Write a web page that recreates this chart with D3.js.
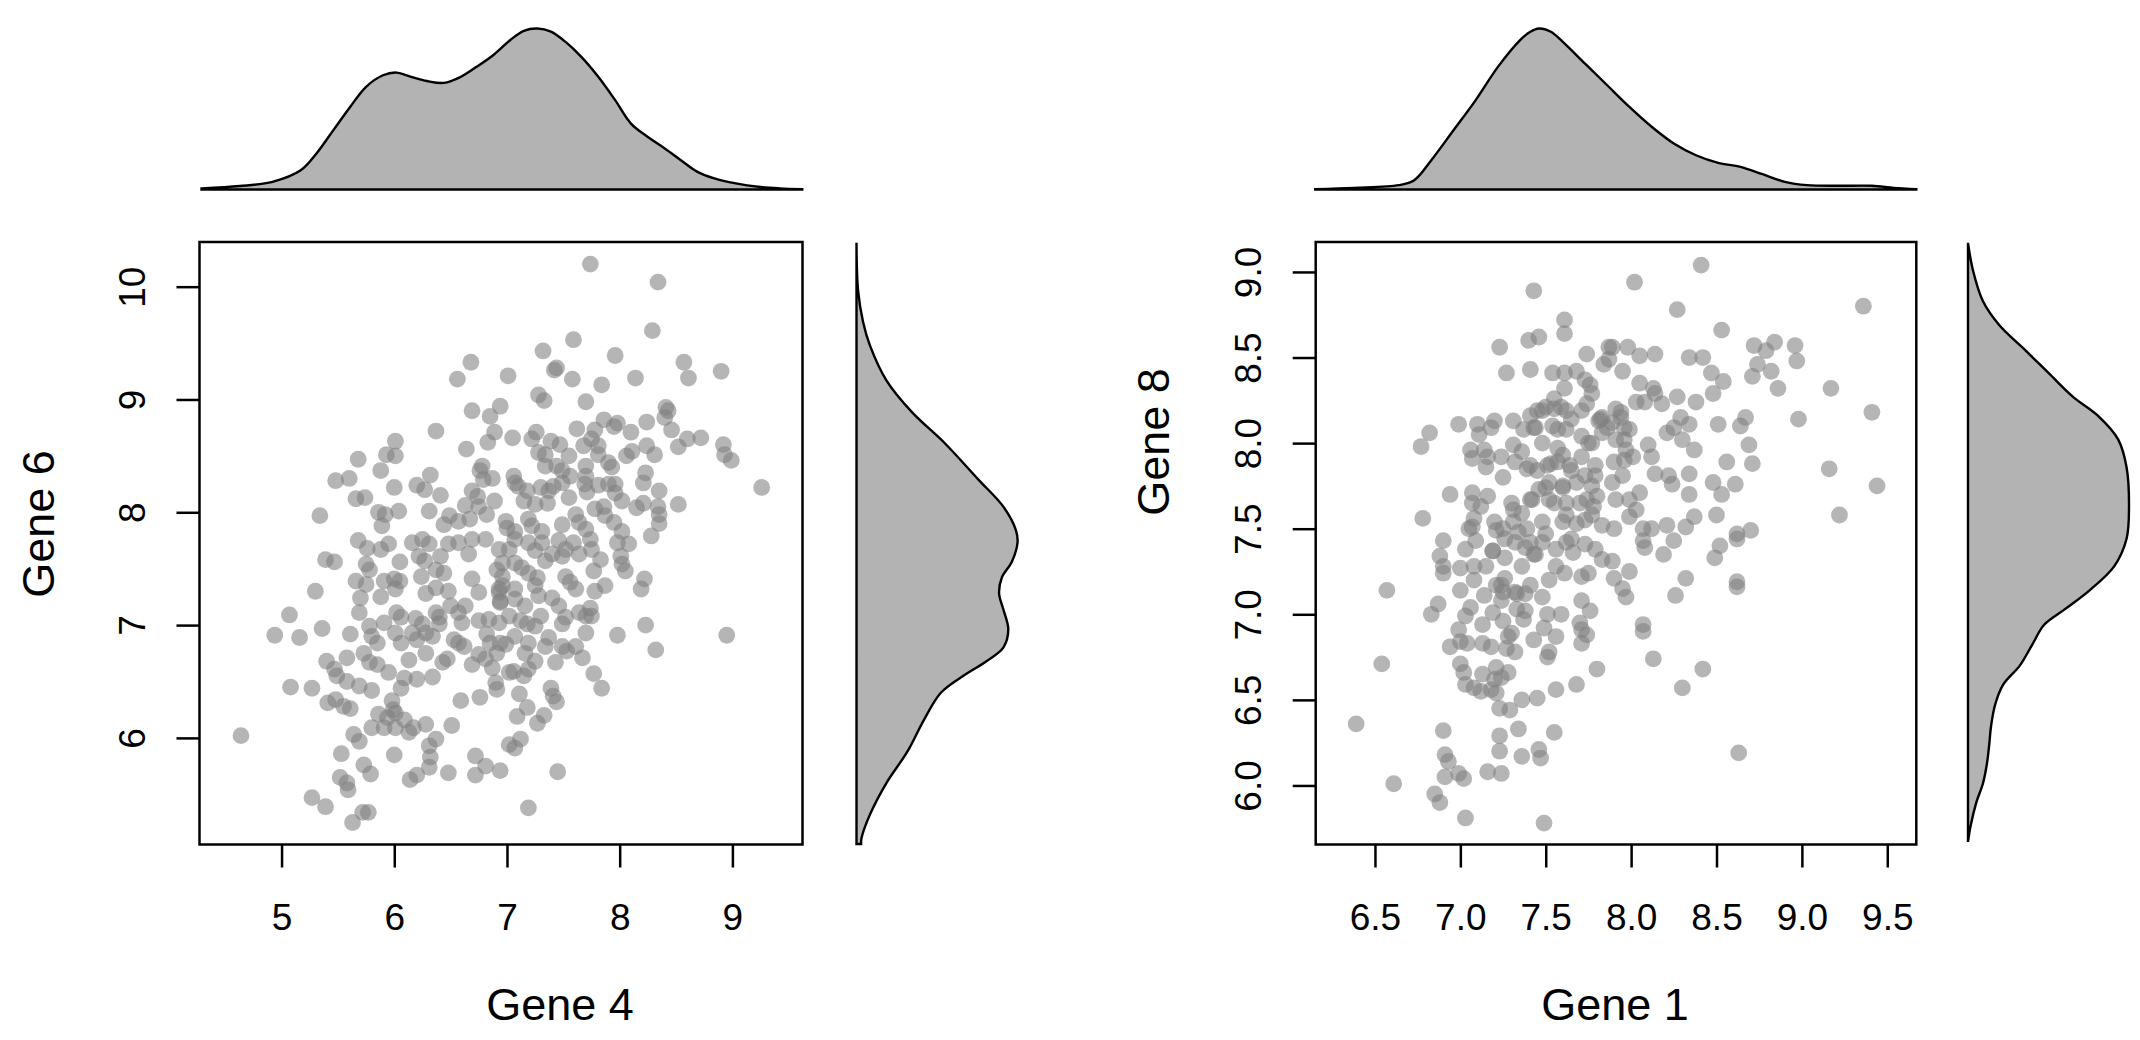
<!DOCTYPE html>
<html>
<head>
<meta charset="utf-8">
<script src="https://d3js.org/d3.v7.min.js"></script>
<style>
  body { margin: 0; background: #fff; }
  svg text { font-family: "Liberation Sans", Arial, Helvetica, sans-serif; fill: #000; }
</style>
</head>
<body>
<div id="chart"></div>
<script>
// ---- Left panel: Gene 4 (x) vs Gene 6 (y) ----
var gene4 = [
  6.68,6.56,6.69,6.85,6.37,6.89,6.83,6.64,6.01,5.93,6.01,5.68,5.88,5.60,5.48,6.20,6.32,6.27,6.00,6.41,5.66,5.74,5.34,5.86,5.92,6.04,5.89,6.31,6.49,6.44,6.57,6.78,6.76,6.79,6.87,6.69,6.74,6.89,6.63,6.75,6.82,6.67,
  7.74,8.34,8.29,7.59,7.32,7.96,7.44,7.42,7.58,7.01,7.84,8.14,8.57,8.61,8.90,7.28,7.33,7.70,6.94,8.41,8.43,8.40,8.24,8.46,8.60,8.72,8.52,8.92,8.93,8.99,9.26,8.52,8.35,8.23,8.21,8.31,8.24,8.10,8.11,8.06,7.98,7.95,7.86,7.78,7.62,7.68,7.75,7.81,7.81,7.90,7.93,7.70,7.55,7.47,7.39,7.26,7.22,7.28,7.34,7.05,7.34,7.44,7.49,7.56,7.70,7.69,7.71,7.81,7.90,7.96,7.96,8.02,8.15,8.21,8.34,8.35,8.35,8.28,7.55,7.37,7.30,7.41,7.49,7.18,7.10,7.06,7.07,7.15,7.25,7.36,7.61,7.64,7.78,7.86,7.87,7.95,6.99,7.00,7.19,7.22,7.49,7.70,8.02,7.31,7.07,
  5.68,5.76,5.88,5.95,5.39,5.47,5.75,5.78,6.05,6.16,6.25,6.31,6.22,6.27,6.41,6.48,6.57,6.69,6.81,6.66,6.93,6.91,6.37,6.44,5.66,5.75,5.91,6.00,6.05,6.01,6.24,6.69,6.75,6.93,6.94,5.30,5.70,5.88,6.28,6.37,6.48,6.50,6.63,5.69,5.91,6.02,6.06,6.19,6.25,6.37,6.40,6.40,6.57,6.60,6.75,6.84,5.07,4.94,5.16,5.36,5.61,5.78,5.80,5.85,6.01,6.06,6.16,6.20,6.28,6.34,6.53,6.57,6.62,6.82,6.85,6.94,5.73,5.58,5.40,5.78,5.85,6.13,6.28,6.43,6.47,6.69,6.75,6.81,6.87,5.47,5.49,5.58,5.69,5.80,5.95,6.09,6.20,6.34,6.06,6.90,6.91,5.08,5.27,5.41,5.48,5.55,5.61,5.98,5.99,6.01,5.86,5.94,5.80,5.91,6.01,6.09,6.13,6.17,6.28,6.51,6.59,6.76,5.64,5.69,5.53,6.00,6.31,6.37,6.32,6.31,5.73,5.79,6.14,6.20,6.48,6.72,6.72,6.81,6.94,5.52,5.58,5.59,5.27,5.39,5.63,5.72,5.77,4.64,
  7.07,7.19,7.31,7.46,7.59,7.74,7.98,8.08,6.96,7.07,7.13,7.19,7.27,7.34,7.49,7.64,7.83,7.77,8.01,8.02,8.05,8.22,8.19,7.87,7.78,7.61,7.56,7.52,6.93,6.94,7.07,7.25,7.28,7.40,7.16,7.30,7.12,7.18,6.93,7.49,7.52,7.64,7.70,7.75,7.74,7.70,7.61,7.53,7.49,7.37,7.34,7.19,7.16,6.99,6.91,7.25,7.43,7.19,7.06,7.02,7.15,7.67,7.77,7.84,7.98,8.23,8.32,8.95,7.11,7.18,7.09,7.27,7.33,7.39,7.41,7.44,7.12,7.07,7.02,7.45,7.19,7.40,7.02,7.25,7.52,7.75,6.96,6.96,7.07,7.02,7.25,7.46,7.07
];
var gene6 = [
  9.33,9.18,8.90,8.85,8.72,8.71,8.62,8.56,8.63,8.51,8.50,8.47,8.37,8.30,8.28,8.24,8.33,8.20,8.22,8.15,8.12,8.13,7.97,8.00,7.98,8.01,7.88,8.01,7.97,7.89,7.92,8.41,8.37,8.29,8.30,8.19,8.14,8.10,8.06,8.05,7.98,7.94,
  10.20,10.04,9.61,9.53,9.43,9.39,9.28,9.26,9.18,9.21,9.13,9.19,9.33,9.19,9.25,9.04,8.99,8.98,8.94,8.93,8.90,8.84,8.80,8.73,8.65,8.66,8.58,8.60,8.51,8.46,8.22,8.07,8.19,8.35,8.26,8.51,8.59,8.71,8.54,8.50,8.79,8.76,8.82,8.73,8.74,8.59,8.65,8.59,8.51,8.44,8.40,8.41,8.50,8.60,8.63,8.71,8.65,8.53,8.51,8.66,8.41,8.41,8.37,8.32,8.32,8.25,8.18,8.24,8.25,8.25,8.17,8.10,8.04,8.08,8.05,7.98,7.90,7.79,8.13,8.19,8.22,8.23,8.26,8.19,8.23,8.32,8.26,8.10,8.07,8.08,7.98,7.91,8.03,8.05,7.97,7.91,7.92,7.86,7.94,7.88,7.89,7.85,7.83,7.83,7.83,
  7.75,7.68,7.67,7.72,7.58,7.56,7.54,7.49,7.56,7.73,7.76,7.72,7.61,7.57,7.61,7.72,7.73,7.76,7.76,7.63,7.67,7.49,7.49,7.46,7.39,7.36,7.39,7.41,7.39,7.32,7.43,7.41,7.29,7.32,7.21,7.30,7.24,7.25,7.28,7.33,7.30,7.17,7.17,7.11,7.02,7.11,7.07,7.06,7.01,7.11,7.07,7.01,7.11,7.02,7.04,7.05,7.09,6.91,6.89,6.97,6.92,6.99,6.90,6.84,6.93,6.84,6.93,6.87,6.93,6.90,6.87,6.84,6.81,6.92,6.84,6.84,6.75,6.71,6.68,6.67,6.65,6.69,6.75,6.67,6.70,6.65,6.74,6.70,6.62,6.61,6.55,6.50,6.46,6.42,6.58,6.53,6.52,6.54,6.44,6.49,6.43,6.45,6.44,6.31,6.34,6.28,6.26,6.33,6.25,6.22,6.21,6.18,6.09,6.09,6.09,6.16,6.05,6.09,6.12,6.11,6.33,6.36,6.03,5.97,5.86,5.85,5.93,5.99,5.83,5.74,5.76,5.68,5.63,5.67,5.69,5.84,5.67,5.75,5.71,5.65,5.60,5.54,5.47,5.39,5.25,5.34,5.34,6.02,
  7.76,7.73,7.73,7.75,7.73,7.76,7.73,7.72,7.55,7.55,7.51,7.46,7.42,7.57,7.61,7.63,7.58,7.48,7.61,7.54,7.48,7.41,7.32,7.35,7.30,7.32,7.38,7.43,7.29,7.20,7.32,7.35,7.26,7.24,7.17,7.08,7.04,7.01,7.02,7.01,7.07,7.11,7.08,7.08,7.15,6.93,6.81,6.77,6.81,6.89,6.81,6.84,6.75,6.83,6.75,6.68,6.67,6.61,6.59,6.58,6.55,6.71,6.57,6.44,6.91,7.00,6.78,6.91,6.39,6.27,6.19,6.13,6.20,6.44,6.37,6.32,5.99,5.91,5.94,5.70,5.38,7.63,7.67,7.66,7.67,7.67,7.43,7.35,7.23,7.08,6.99,7.17,6.90
];

// ---- Right panel: Gene 1 (x) vs Gene 8 (y) ----
var gene1 = [
  7.43,7.61,7.61,7.40,7.46,7.23,7.87,7.87,7.74,7.84,7.27,7.41,7.54,7.61,7.68,7.73,7.76,7.77,7.61,7.55,7.45,7.50,7.59,7.62,7.71,7.83,6.82,6.77,6.99,7.10,7.20,7.18,7.11,7.31,7.37,7.44,7.54,7.62,7.48,7.57,7.71,7.75,7.81,7.83,7.31,7.06,7.14,7.07,7.16,7.24,7.15,7.25,7.32,7.39,7.41,7.51,7.57,7.64,7.71,7.79,7.73,7.77,7.68,7.60,7.52,7.46,7.42,7.52,7.62,7.70,7.78,7.80,7.30,7.31,7.36,6.94,7.07,7.07,7.16,6.78,7.08,7.20,7.25,7.48,7.60,7.68,7.73,7.83,7.39,7.05,7.34,
  8.41,8.02,8.27,9.36,8.53,8.72,8.84,8.96,8.97,8.79,8.74,8.82,8.71,8.86,9.17,9.41,8.98,7.98,8.05,8.14,8.34,8.42,8.47,8.54,8.48,8.38,8.27,7.89,7.95,8.05,8.13,8.14,8.08,8.03,8.18,7.91,7.94,7.89,7.99,7.96,8.01,7.97,8.10,8.12,8.21,8.25,8.29,8.34,8.30,8.37,8.51,8.64,8.67,8.69,8.71,8.56,8.34,8.22,8.24,8.14,7.95,7.90,7.89,8.05,7.99,8.03,7.99,7.91,7.90,8.07,8.12,8.21,8.34,8.37,8.32,8.48,8.53,8.61,8.50,8.62,8.70,9.16,9.44,9.22,
  6.90,7.03,7.09,7.19,7.26,7.32,7.38,7.44,7.48,7.56,7.62,7.66,7.73,7.79,7.83,6.88,6.90,6.90,7.00,7.08,7.15,7.08,7.00,7.14,7.21,7.25,7.24,7.32,7.38,7.48,7.52,7.56,7.61,7.71,7.75,7.71,7.76,7.59,7.51,7.38,7.37,7.25,7.19,7.13,7.06,7.03,6.99,7.00,7.04,6.94,7.13,7.18,7.28,7.27,7.32,7.30,7.43,7.49,7.56,7.70,7.71,7.74,7.71,7.52,7.51,6.83,6.87,6.57,6.54,7.00,7.02,7.03,7.08,7.12,7.13,7.18,7.21,7.20,7.24,7.21,7.28,7.23,7.29,7.36,7.45,7.56,7.68,7.80,6.39,6.90,7.34,7.55,7.23,7.23,6.91,6.93,6.91,6.99,7.02,7.16,7.24,7.36,7.46,7.47,6.61,6.85,6.88,7.03,7.49,
  8.07,8.08,8.19,8.25,8.52,8.49,8.62,7.89,7.90,7.99,7.95,7.97,8.32,8.26,8.62,8.62,8.07,8.07,8.13,8.42,8.30,8.63,
  7.48,7.55,7.41,7.43,7.57,7.65,7.82,7.94,7.86,7.96,7.91,7.77,7.60,7.53,7.45,7.65,7.79,7.96,7.60,7.74,7.50,7.41,7.55,7.62,7.77,7.31,7.21,7.41,7.50,7.65,7.43,7.36,7.26,7.19,7.24,7.33,7.41,7.33,7.26,7.12,7.07,7.36,7.74
];
var gene8 = [
  8.89,8.72,8.64,8.60,8.62,8.56,8.56,8.49,8.52,8.46,8.41,8.43,8.41,8.41,8.42,8.37,8.34,8.29,8.32,8.26,8.19,8.21,8.21,8.19,8.19,8.15,8.06,7.98,8.11,8.11,8.13,8.09,8.05,8.13,8.08,8.09,8.10,8.08,8.00,7.97,8.04,8.00,8.13,8.06,7.99,7.96,7.96,7.91,7.92,7.92,7.86,7.80,7.89,7.85,7.87,7.87,7.89,7.87,7.92,7.87,7.81,7.75,7.77,7.75,7.77,7.73,7.67,7.67,7.65,7.65,7.63,7.69,7.65,7.61,7.59,7.70,7.71,7.65,7.69,7.56,7.56,7.54,7.50,7.54,7.54,7.53,7.55,7.52,7.50,7.50,7.48,
  9.04,8.94,8.78,8.80,8.66,8.57,8.59,8.57,8.48,8.54,8.46,8.42,8.39,8.32,8.32,8.18,8.14,8.56,8.51,8.52,8.50,8.50,8.41,8.36,8.29,8.24,8.27,8.56,8.42,8.35,8.32,8.29,8.24,8.24,8.23,8.20,8.15,8.12,8.08,8.02,7.92,7.96,7.99,7.92,8.06,8.09,8.15,8.11,8.02,7.96,8.11,8.10,8.15,7.99,7.88,7.89,7.82,7.81,7.76,7.82,7.81,7.89,7.77,7.71,7.67,7.61,7.57,7.67,7.50,7.50,7.50,7.52,7.70,7.57,7.51,7.77,7.70,7.76,7.58,7.47,7.49,7.85,7.75,7.58,
  7.43,7.38,7.43,7.37,7.44,7.42,7.39,7.35,7.42,7.38,7.42,7.36,7.41,7.38,7.32,7.34,7.28,7.24,7.27,7.28,7.28,7.20,7.14,7.11,7.17,7.13,7.08,7.13,7.12,7.10,7.20,7.28,7.24,7.22,7.24,7.08,7.02,7.00,7.00,7.02,6.97,6.96,7.01,6.94,7.04,6.99,6.91,6.84,6.83,6.81,6.83,6.81,6.87,6.80,6.78,6.89,6.85,6.92,6.87,6.95,6.91,6.88,6.83,6.78,6.75,7.00,7.06,7.14,6.71,6.71,6.66,6.59,6.57,6.55,6.65,6.56,6.54,6.62,6.63,6.69,6.66,6.45,6.44,6.50,6.51,6.56,6.59,6.68,6.36,6.32,6.33,6.31,6.29,6.20,6.18,6.14,6.05,6.07,6.04,6.08,6.07,6.17,6.21,6.16,6.01,5.95,5.90,5.81,5.78,
  7.43,7.39,7.35,7.43,7.40,7.33,7.44,7.31,7.21,7.25,7.15,7.10,7.21,7.11,7.19,7.16,6.94,6.90,6.74,6.68,6.57,6.19,
  8.19,8.20,8.16,8.09,8.08,8.14,8.14,8.18,8.09,8.09,8.02,8.00,7.93,7.88,7.84,7.84,7.81,7.90,7.74,7.67,7.74,7.67,7.65,7.58,7.58,7.54,7.49,7.42,7.47,7.44,7.35,7.28,7.33,7.37,7.17,7.12,7.17,7.03,7.21,7.63,7.51,7.95,8.23
];

// ---- Marginal density curves ----
var gene4DensX = [4.29,4.63,4.92,5.17,5.31,5.46,5.61,5.75,5.90,6.02,6.15,6.29,6.44,6.59,6.73,6.88,7.03,7.15,7.27,7.39,7.52,7.66,7.81,7.96,8.10,8.25,8.40,8.54,8.69,8.84,9.03,9.23,9.42,9.62];
var gene4DensY = [0.003,0.009,0.020,0.050,0.094,0.155,0.216,0.268,0.298,0.305,0.294,0.283,0.278,0.294,0.320,0.351,0.390,0.414,0.420,0.412,0.385,0.346,0.294,0.233,0.172,0.137,0.107,0.077,0.046,0.029,0.016,0.007,0.003,0.001];
var gene6DensX = [5.06,5.11,5.32,5.60,5.88,6.16,6.40,6.54,6.68,6.80,6.96,7.14,7.28,7.42,7.56,7.73,7.84,8.05,8.29,8.61,8.89,9.17,9.48,9.69,9.97,10.39];
var gene6DensY = [0.012,0.013,0.035,0.078,0.133,0.176,0.220,0.274,0.339,0.383,0.396,0.383,0.372,0.379,0.405,0.420,0.416,0.383,0.318,0.231,0.144,0.078,0.035,0.017,0.004,0.000];
var gene1DensX = [6.15,6.38,6.64,6.73,6.83,6.96,7.09,7.22,7.35,7.41,7.46,7.53,7.60,7.73,7.86,7.99,8.12,8.25,8.38,8.51,8.64,8.77,8.90,9.03,9.22,9.41,9.54,9.67];
var gene1DensY = [0.002,0.008,0.021,0.045,0.142,0.287,0.433,0.594,0.724,0.764,0.780,0.764,0.715,0.610,0.505,0.400,0.304,0.223,0.166,0.129,0.110,0.074,0.037,0.021,0.018,0.018,0.008,0.002];
var gene8DensX = [5.67,5.76,5.90,6.01,6.13,6.24,6.34,6.47,6.59,6.70,6.82,6.94,7.03,7.14,7.28,7.44,7.63,7.86,8.02,8.16,8.27,8.41,8.55,8.69,8.83,9.01,9.17];
var gene8DensY = [0.000,0.012,0.040,0.072,0.092,0.103,0.111,0.131,0.171,0.251,0.310,0.370,0.470,0.589,0.708,0.768,0.780,0.768,0.728,0.629,0.509,0.390,0.271,0.151,0.072,0.024,0.000];

var svg = d3.select("#chart").append("svg")
    .attr("width", 2140)
    .attr("height", 1040);

// Plot geometry shared by both panels
var plotTop = 242, plotBottom = 844.5;
var densBase = 189.5, densPeak = 28.5, sideWidth = 161;

var panels = [
    {
        xs: gene4, ys: gene6, xLab: "Gene 4", yLab: "Gene 6",
        left: 199.5, right: 802.5,
        xDom: [4.272, 9.622], yDom: [5.055, 10.396],
        xTicks: [5, 6, 7, 8, 9], yTicks: [6, 7, 8, 9, 10], fmt: d3.format("d"),
        topX: gene4DensX, topY: gene4DensY, sideX: gene6DensX, sideY: gene6DensY,
        sideBase: 856.5, xLabPos: [560, 1004], yLabPos: [38, 524]
    },
    {
        xs: gene1, ys: gene8, xLab: "Gene 1", yLab: "Gene 8",
        left: 1315.7, right: 1916.3,
        xDom: [6.153, 9.67], yDom: [5.655, 9.175],
        xTicks: [6.5, 7, 7.5, 8, 8.5, 9, 9.5], yTicks: [6, 6.5, 7, 7.5, 8, 8.5, 9], fmt: d3.format(".1f"),
        topX: gene1DensX, topY: gene1DensY, sideX: gene8DensX, sideY: gene8DensY,
        sideBase: 1968, xLabPos: [1615, 1004], yLabPos: [1153, 442]
    }
];

panels.forEach(drawPanel);

function drawPanel(p) {
    var x = d3.scaleLinear().domain(p.xDom).range([p.left, p.right]);
    var y = d3.scaleLinear().domain(p.yDom).range([plotBottom, plotTop]);

    // Scatter points
    svg.append("g")
        .selectAll("circle")
        .data(d3.range(p.xs.length))
        .enter().append("circle")
        .attr("cx", function (i) { return x(p.xs[i]); })
        .attr("cy", function (i) { return y(p.ys[i]); })
        .attr("r", 8.4)
        .attr("fill", "rgb(128,128,128)")
        .attr("fill-opacity", 0.58);

    // Box
    svg.append("rect")
        .attr("x", p.left)
        .attr("y", plotTop)
        .attr("width", p.right - p.left)
        .attr("height", plotBottom - plotTop)
        .attr("fill", "none")
        .attr("stroke", "#000")
        .attr("stroke-width", 2.5);

    // x axis
    var gx = svg.append("g")
        .attr("transform", "translate(0," + plotBottom + ")")
        .call(d3.axisBottom(x).tickValues(p.xTicks).tickFormat(p.fmt).tickSize(23).tickSizeOuter(0));
    gx.select(".domain").remove();
    gx.selectAll("line").attr("stroke", "#000").attr("stroke-width", 2.5);
    gx.selectAll("text")
        .attr("y", 59.5)
        .attr("fill", "#000")
        .style("font-size", "37px")
        .style("font-family", "'Liberation Sans', Arial, sans-serif");

    // y axis, labels rotated like R's default
    var gy = svg.append("g")
        .attr("transform", "translate(" + p.left + ",0)")
        .call(d3.axisLeft(y).tickValues(p.yTicks).tickFormat(p.fmt).tickSize(23).tickSizeOuter(0));
    gy.select(".domain").remove();
    gy.selectAll("line").attr("stroke", "#000").attr("stroke-width", 2.5);
    gy.selectAll("text")
        .attr("x", 0)
        .attr("y", -67.5)
        .attr("dy", "0.35em")
        .attr("transform", "rotate(-90)")
        .attr("fill", "#000")
        .style("text-anchor", "middle")
        .style("font-size", "37px")
        .style("font-family", "'Liberation Sans', Arial, sans-serif");

    // Axis titles
    svg.append("text")
        .attr("x", p.xLabPos[0])
        .attr("y", p.xLabPos[1])
        .attr("dy", "0.36em")
        .style("text-anchor", "middle")
        .style("font-size", "45px")
        .text(p.xLab);

    svg.append("text")
        .attr("transform", "translate(" + p.yLabPos[0] + "," + p.yLabPos[1] + ") rotate(-90)")
        .attr("dy", "0.36em")
        .style("text-anchor", "middle")
        .style("font-size", "45px")
        .text(p.yLab);

    // Top marginal density
    var topData = p.topX.map(function (v, i) { return [v, p.topY[i]]; });
    var dTop = d3.scaleLinear().domain([0, d3.max(p.topY)]).range([densBase, densPeak]);
    svg.append("path")
        .datum(topData)
        .attr("d", d3.area()
            .x(function (d) { return x(d[0]); })
            .y0(densBase)
            .y1(function (d) { return Math.min(densBase, dTop(d[1])); })
            .curve(d3.curveCatmullRom.alpha(0.5)))
        .attr("fill", "#b3b3b3")
        .attr("stroke", "#000")
        .attr("stroke-width", 2.4);

    // Side marginal density
    var sideData = p.sideX.map(function (v, i) { return [v, p.sideY[i]]; });
    var dSide = d3.scaleLinear().domain([0, d3.max(p.sideY)]).range([p.sideBase, p.sideBase + sideWidth]);
    svg.append("path")
        .datum(sideData)
        .attr("d", d3.area()
            .y(function (d) { return y(d[0]); })
            .x0(p.sideBase)
            .x1(function (d) { return dSide(d[1]); })
            .curve(d3.curveCatmullRom.alpha(0.5)))
        .attr("fill", "#b3b3b3")
        .attr("stroke", "#000")
        .attr("stroke-width", 2.4);
}
</script>
</body>
</html>
